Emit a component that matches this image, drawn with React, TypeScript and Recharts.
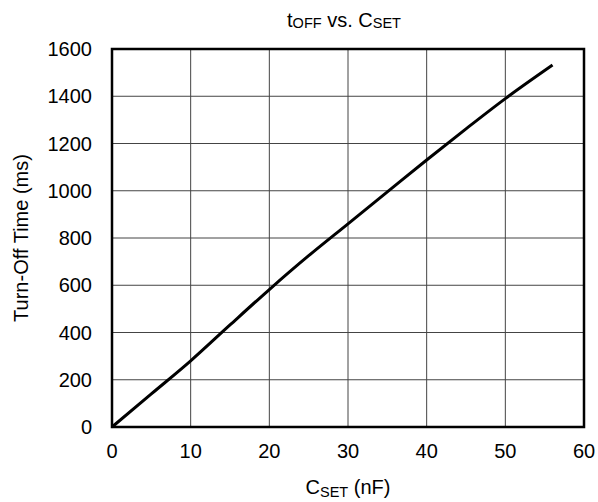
import {
  LineChart,
  Line,
  XAxis,
  YAxis,
  CartesianGrid,
  ReferenceArea,
  Label,
} from "recharts";

// C_SET (nF) vs turn-off time (ms)
const capValues = [0, 5, 10, 15, 20, 25, 30, 35, 40, 45, 50, 56];
const offTimes = [0, 140, 280, 432, 582, 725, 860, 995, 1130, 1262, 1390, 1532];
const xTicks = [0, 10, 20, 30, 40, 50, 60];
const yTicks = [0, 200, 400, 600, 800, 1000, 1200, 1400, 1600];

const data = capValues.map((c, i) => ({ c, t: offTimes[i] }));

const FONT = "Liberation Sans, Arial, sans-serif";

const XTitle = () => (
  <text x={348} y={494} textAnchor="middle" fontFamily={FONT} fontSize={20} fill="#000">
    C<tspan fontSize={14.5} dy={3}>SET</tspan>
    <tspan dy={-3}> (nF)</tspan>
  </text>
);

const YTitle = () => (
  <text
    x={28}
    y={238}
    transform="rotate(-90, 28, 238)"
    textAnchor="middle"
    fontFamily={FONT}
    fontSize={20}
    fill="#000"
  >
    Turn-Off Time (ms)
  </text>
);

export default function App() {
  return (
    <div style={{ position: "absolute", left: 0, top: 0, width: 598, height: 502, overflow: "hidden" }}>
      <LineChart
        width={598}
        height={502}
        data={data}
        margin={{ top: 49, right: 14, bottom: 45, left: 52 }}
      >
        <text x={344} y={27} textAnchor="middle" fontFamily={FONT} fontSize={20} fill="#000">
          t<tspan fontSize={14.5} dy={1}>OFF</tspan>
          <tspan dy={-1}> vs. C</tspan>
          <tspan fontSize={14.5} dy={1}>SET</tspan>
        </text>
        <CartesianGrid stroke="#444" strokeWidth={1} />
        <XAxis
          dataKey="c"
          type="number"
          domain={[0, 60]}
          ticks={xTicks}
          height={30}
          tickLine={false}
          tickSize={0}
          tickMargin={17}
          axisLine={false}
          tick={{ fill: "#000", fontSize: 20, fontFamily: FONT }}
          interval={0}
        >
          <Label content={<XTitle />} />
        </XAxis>
        <YAxis
          type="number"
          domain={[0, 1600]}
          ticks={yTicks}
          width={60}
          tickLine={false}
          tickSize={0}
          tickMargin={20}
          axisLine={false}
          tick={{ fill: "#000", fontSize: 20, fontFamily: FONT }}
          interval={0}
        >
          <Label content={<YTitle />} />
        </YAxis>
        <ReferenceArea
          x1={0}
          x2={60}
          y1={0}
          y2={1600}
          fill="none"
          stroke="#000"
          strokeWidth={2.5}
          ifOverflow="visible"
        />
        <Line
          dataKey="t"
          type="monotone"
          stroke="#000"
          strokeWidth={3}
          dot={false}
          isAnimationActive={false}
        />
      </LineChart>
    </div>
  );
}
